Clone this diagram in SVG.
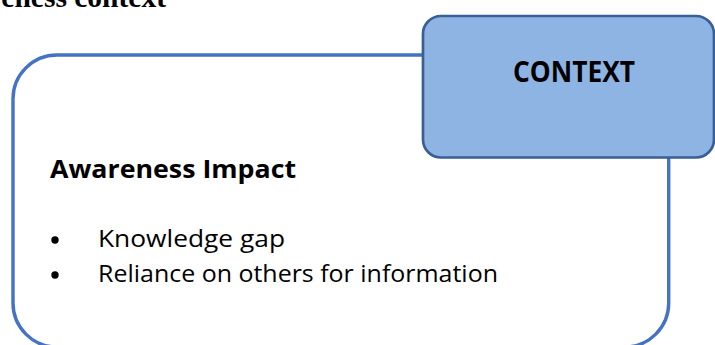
<svg xmlns="http://www.w3.org/2000/svg" width="715" height="345" viewBox="0 0 715 345">
  <style>
    .title { font-family: "Liberation Serif", "Times New Roman", serif; font-weight: bold; font-size: 29.5px; fill: #000; }
    .panel { fill: #ffffff; stroke: #4472C4; stroke-width: 3.4; }
    .ctx { fill: #8EB4E3; stroke: #3A5E96; stroke-width: 2.7; }
    .ctxlabel { font-family: "Open Sans", "Liberation Sans", sans-serif; font-weight: bold; font-size: 28px; fill: #000; }
    .heading { font-family: "Open Sans", "Liberation Sans", sans-serif; font-weight: bold; font-size: 25px; fill: #000; }
    .item { font-family: "Open Sans", "Liberation Sans", sans-serif; font-size: 23.5px; fill: #000; }
    .bullet { fill: #000; }
  </style>
  <rect width="715" height="345" fill="#ffffff"/>
  <text class="title" x="166" y="7" text-anchor="end">eness context</text>

  <g id="awareness-panel">
    <rect class="panel" x="13" y="55" width="655.7" height="292" rx="44" ry="44"/>
    <text class="heading" x="50" y="178" textLength="246" lengthAdjust="spacingAndGlyphs">Awareness Impact</text>
    <circle class="bullet" cx="55" cy="240" r="3.7"/>
    <text class="item" x="98" y="247" textLength="187" lengthAdjust="spacingAndGlyphs">Knowledge gap</text>
    <circle class="bullet" cx="55" cy="275" r="3.7"/>
    <text class="item" x="98" y="282" textLength="400" lengthAdjust="spacingAndGlyphs">Reliance on others for information</text>
  </g>

  <g id="context">
    <rect class="ctx" x="423" y="16" width="291" height="141.5" rx="18" ry="18"/>
    <text class="ctxlabel" x="574" y="82" text-anchor="middle" textLength="122" lengthAdjust="spacingAndGlyphs">CONTEXT</text>
  </g>

  <g id="connectors"></g>
</svg>
